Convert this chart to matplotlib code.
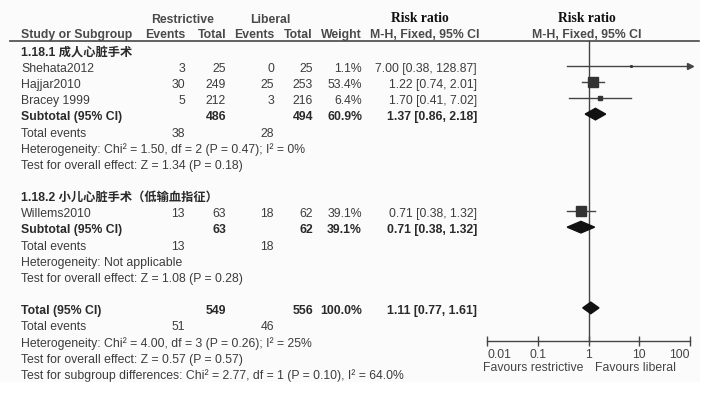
import numpy as np
import matplotlib
matplotlib.use('Agg')
import matplotlib.pyplot as plt
from matplotlib.patches import Polygon, Rectangle

# study level data
studies = ['Shehata2012', 'Hajjar2010', 'Bracey 1999', 'Willems2010']
r_events = [3, 30, 5, 13]
r_total = [25, 249, 212, 63]
l_events = [0, 25, 3, 18]
l_total = [25, 253, 216, 62]
weight = [1.1, 53.4, 6.4, 39.1]
rr = [7.00, 1.22, 1.70, 0.71]
rr_lo = [0.38, 0.74, 0.41, 0.38]
rr_hi = [128.87, 2.01, 7.02, 1.32]
study_rows = [1, 2, 3, 10]

# subgroups
groups = ['1.18.1 成人心脏手术', '1.18.2 小儿心脏手术（低输血指征）']
group_rows = [0, 9]
sub_r_events = [38, 13]
sub_r_total = [486, 63]
sub_l_events = [28, 18]
sub_l_total = [494, 62]
sub_weight = [60.9, 39.1]
sub_rr = [1.37, 0.71]
sub_lo = [0.86, 0.38]
sub_hi = [2.18, 1.32]
sub_rows = [4, 11]
sub_het = ['Heterogeneity: Chi² = 1.50, df = 2 (P = 0.47); I² = 0%',
           'Heterogeneity: Not applicable']
sub_test = ['Test for overall effect: Z = 1.34 (P = 0.18)',
            'Test for overall effect: Z = 1.08 (P = 0.28)']

# overall
tot_r_events, tot_r_total = 51, 549
tot_l_events, tot_l_total = 46, 556
tot_rr, tot_lo, tot_hi = 1.11, 0.77, 1.61
tot_row = 16
tot_lines = ['Heterogeneity: Chi² = 4.00, df = 3 (P = 0.26); I² = 25%',
             'Test for overall effect: Z = 0.57 (P = 0.57)',
             'Test for subgroup differences: Chi² = 2.77, df = 1 (P = 0.10), I² = 64.0%']

ticks = [0.01, 0.1, 1, 10, 100]
tick_labels = ['0.01', '0.1', '1', '10', '100']

# layout in pixels
W, H = 709, 395
y0, dy = 52.8, 16.15
def rowy(i):
    return y0 + dy * i

x_name = 21
x_re, x_rt, x_le, x_lt, x_w, x_ci = 185, 226, 274, 313, 362, 477
axis_y = 341
mk_off = -3.3   # marks sit a bit above the text rows

sans = ['Liberation Sans', 'Noto Sans CJK SC']
fs = 8.8
txt = '#3c3c3c'
bold = '#2a2a2a'

fig = plt.figure(figsize=(W / 100, H / 100), dpi=100)
fig.patch.set_facecolor('white')
ax = fig.add_axes([0, 0, 1, 1])
ax.set_xlim(0, W)
ax.set_ylim(H, 0)
ax.axis('off')
ax.add_patch(Rectangle((0, 0), 700, 382, color='#fbfbfb', zorder=0))

def t(x, y, s, ha='left', weight='normal', color=None, **kw):
    ax.text(x, y, s, ha=ha, va='center', fontsize=kw.pop('size', fs),
            family=kw.pop('family', sans), fontweight=weight,
            color=color or (bold if weight == 'bold' else txt), **kw)

# header
hc = '#4a4a4a'
t(183, 20, 'Restrictive', ha='center', weight='bold', color=hc)
t(270, 20, 'Liberal', ha='center', weight='bold', color=hc)
t(x_name, 35, 'Study or Subgroup', weight='bold', color=hc)
for x, s in zip([x_re, x_rt, x_le, x_lt, x_w], ['Events', 'Total', 'Events', 'Total', 'Weight']):
    t(x, 35, s, ha='right', weight='bold', color=hc)
serif = ['Liberation Serif']
t(420, 19, 'Risk ratio', ha='center', weight='bold', color='#111', family=serif, size=9.8)
t(425, 35, 'M-H, Fixed, 95% CI', ha='center', weight='bold', color=hc)
t(587, 19, 'Risk ratio', ha='center', weight='bold', color='#111', family=serif, size=9.8)
t(587, 35, 'M-H, Fixed, 95% CI', ha='center', weight='bold', color=hc)
ax.plot([10, 700], [40.7, 40.7], color='#555', lw=1.3)

# subgroups text
for g in range(2):
    t(x_name, rowy(group_rows[g]), groups[g], weight='bold')
    r = sub_rows[g]
    t(x_name, rowy(r), 'Subtotal (95% CI)', weight='bold')
    t(x_rt, rowy(r), str(sub_r_total[g]), ha='right', weight='bold')
    t(x_lt, rowy(r), str(sub_l_total[g]), ha='right', weight='bold')
    t(x_w, rowy(r), '%.1f%%' % sub_weight[g], ha='right', weight='bold')
    t(x_ci, rowy(r), '%.2f [%.2f, %.2f]' % (sub_rr[g], sub_lo[g], sub_hi[g]), ha='right', weight='bold')
    t(x_name, rowy(r + 1), 'Total events')
    t(x_re, rowy(r + 1), str(sub_r_events[g]), ha='right')
    t(x_le, rowy(r + 1), str(sub_l_events[g]), ha='right')
    t(x_name, rowy(r + 2), sub_het[g])
    t(x_name, rowy(r + 3), sub_test[g])

for i in range(len(studies)):
    y = rowy(study_rows[i])
    t(x_name, y, studies[i])
    t(x_re, y, str(r_events[i]), ha='right')
    t(x_rt, y, str(r_total[i]), ha='right')
    t(x_le, y, str(l_events[i]), ha='right')
    t(x_lt, y, str(l_total[i]), ha='right')
    t(x_w, y, '%.1f%%' % weight[i], ha='right')
    t(x_ci, y, '%.2f [%.2f, %.2f]' % (rr[i], rr_lo[i], rr_hi[i]), ha='right')

y = rowy(tot_row)
t(x_name, y, 'Total (95% CI)', weight='bold')
t(x_rt, y, str(tot_r_total), ha='right', weight='bold')
t(x_lt, y, str(tot_l_total), ha='right', weight='bold')
t(x_w, y, '100.0%', ha='right', weight='bold')
t(x_ci, y, '%.2f [%.2f, %.2f]' % (tot_rr, tot_lo, tot_hi), ha='right', weight='bold')
t(x_name, rowy(tot_row + 1), 'Total events')
t(x_re, rowy(tot_row + 1), str(tot_r_events), ha='right')
t(x_le, rowy(tot_row + 1), str(tot_l_events), ha='right')
for k, s in enumerate(tot_lines):
    t(x_name, rowy(tot_row + 2 + k), s)

# forest panel
fa = fig.add_axes([487 / W, 0, 203 / W, 1])
fa.patch.set_alpha(0)
fa.set_xscale('log')
fa.set_xlim(0.01, 100)
fa.set_ylim(H, 0)
for s in ['top', 'left', 'right']:
    fa.spines[s].set_visible(False)
fa.spines['bottom'].set_position(('data', axis_y))
fa.spines['bottom'].set_color('#444')
fa.spines['bottom'].set_linewidth(1)
fa.set_yticks([])
fa.set_xticks(ticks)
fa.set_xticklabels(tick_labels)
fa.minorticks_off()
fa.tick_params(axis='x', direction='inout', length=7, width=1, color='#444',
               labelsize=fs, labelcolor='#444', pad=2)
labs = fa.get_xticklabels()
for lab in labs:
    lab.set_family(sans)
labs[0].set_horizontalalignment('left')
labs[-1].set_horizontalalignment('right')
fa.plot([1, 1], [40.7, axis_y], color='#444', lw=1)

lc = '#444'
for i in range(len(studies)):
    y = rowy(study_rows[i]) + mk_off
    hi = min(rr_hi[i], 100)
    fa.plot([rr_lo[i], hi], [y, y], color=lc, lw=1, clip_on=False)
    if rr_hi[i] > 100:
        fa.plot([100], [y], marker='>', ms=4, color=lc, clip_on=False)
    side = 1.45 * np.sqrt(weight[i])
    fa.plot([rr[i]], [y], marker='s', ms=side * 0.72, color='#333', mec='#333', clip_on=False)

def diamond(c, lo, hi, y):
    fa.add_patch(Polygon([(lo, y), (c, y - 5.8), (hi, y), (c, y + 5.8)], closed=True,
                         color='#111', zorder=3))

for g in range(2):
    diamond(sub_rr[g], sub_lo[g], sub_hi[g], rowy(sub_rows[g]) + mk_off)
diamond(tot_rr, tot_lo, tot_hi, rowy(tot_row) + mk_off)

t(583, 368, 'Favours restrictive', ha='right', color='#444')
t(595, 368, 'Favours liberal', color='#444')

# crop band at the bottom like the screenshot
ax.add_patch(Rectangle((0, 382), W, 20, color='white', zorder=10))
ax.add_patch(Rectangle((700, 0), 10, H, color='white', zorder=10))

fig.savefig('out.png', dpi=100, facecolor='white')
